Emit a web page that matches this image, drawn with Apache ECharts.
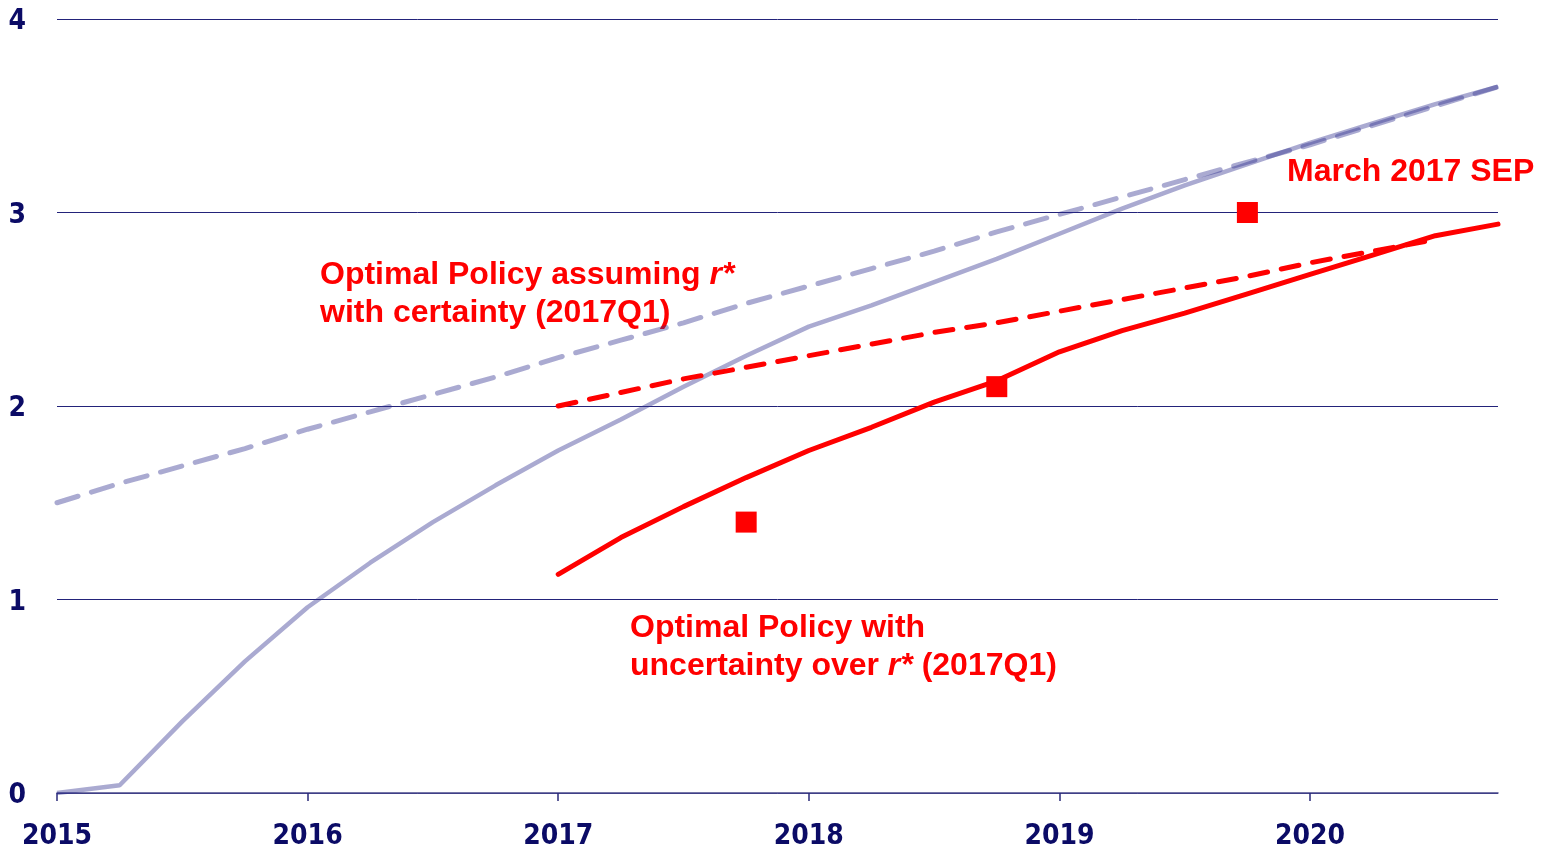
<!DOCTYPE html>
<html>
<head>
<meta charset="utf-8">
<script src="https://cdn.jsdelivr.net/npm/echarts@6/dist/echarts.min.js"></script>
<style>html,body{margin:0;padding:0;background:#fff}#c{width:1541px;height:849px}</style>
</head>
<body>
<div id="c"></div>
<script>
// Quarterly dates (2015Q1 .. 2020Q4)
const quarters = [2015,2015.25,2015.5,2015.75,2016,2016.25,2016.5,2016.75,2017,2017.25,2017.5,2017.75,2018,2018.25,2018.5,2018.75,2019,2019.25,2019.5,2019.75,2020,2020.25,2020.5,2020.75];
// Gray solid path
const graySolid = [0,0.04,0.37,0.68,0.96,1.19,1.40,1.59,1.77,1.93,2.10,2.26,2.41,2.52,2.64,2.76,2.89,3.02,3.14,3.25,3.36,3.46,3.56,3.65];
// Gray dashed path
const grayDashed = [1.50,1.60,1.69,1.78,1.88,1.97,2.06,2.15,2.25,2.34,2.43,2.53,2.62,2.71,2.80,2.90,2.99,3.08,3.17,3.26,3.35,3.45,3.55,3.65];
// Red dashed: optimal policy assuming r* with certainty (2017Q1 ..)
const redDashedQ = [2017,2017.25,2017.5,2017.75,2018,2018.25,2018.5,2018.75,2019,2019.25,2019.5,2019.75,2020,2020.25,2020.5];
const redDashed = [2.00,2.07,2.14,2.20,2.26,2.32,2.38,2.43,2.49,2.55,2.61,2.67,2.74,2.80,2.86];
// Red solid: optimal policy with uncertainty over r*
const redSolidQ = [2017,2017.25,2017.5,2017.75,2018,2018.25,2018.5,2018.75,2019,2019.25,2019.5,2019.75,2020,2020.25,2020.5,2020.75];
const redSolid = [1.13,1.32,1.48,1.63,1.77,1.89,2.02,2.13,2.28,2.39,2.48,2.58,2.68,2.78,2.88,2.94];
// March 2017 SEP medians
const sepQ = [2017.75,2018.75,2019.75];
const sep = [1.40,2.10,3.00];
const yTicks = [0,1,2,3,4];

const zip = (a,b)=>a.map((v,i)=>[v,b[i]]);
const navy = '#0b0b66';
const labelFont = '"Liberation Sans Narrow","DejaVu Sans Condensed",sans-serif';
const annFont = '"Liberation Sans",Arial,sans-serif';
const fs = 32;
const rich = {a:{fontFamily:annFont,fontWeight:'bold',fontSize:fs,fill:'#ff0000',lineHeight:38},
              i:{fontFamily:annFont,fontWeight:'bold',fontStyle:'italic',fontSize:fs,fill:'#ff0000',lineHeight:38}};

const chart = echarts.init(document.getElementById('c'));
chart.setOption({
  animation:false,
  grid:{left:57,right:43,top:19,bottom:56,containLabel:false,outerBoundsMode:'none'},
  xAxis:{type:'value',min:2015,max:2020.75,interval:1,
    axisLine:{show:true,lineStyle:{color:'#4a4a8c',width:1.5}},
    axisTick:{show:true,length:8,lineStyle:{color:'#2a2a7a',width:1.5}},
    splitLine:{show:false},
    axisLabel:{showMaxLabel:false,margin:30,color:navy,fontFamily:labelFont,fontWeight:'bold',fontSize:28,
      formatter:v=>String(Math.round(v))}},
  yAxis:{type:'value',min:yTicks[0],max:yTicks[yTicks.length-1],interval:1,
    axisLine:{show:false},axisTick:{show:false},
    splitLine:{show:true,lineStyle:{color:'#23237a',width:1}},
    axisLabel:{margin:31,align:'right',
      formatter:v=>'{v|'+v+'}',
      rich:{v:{color:navy,fontFamily:labelFont,fontWeight:'bold',fontSize:28,padding:[6,0,0,0]}}}},
  series:[
    {type:'line',data:zip(quarters,grayDashed),symbol:'none',z:2,
      lineStyle:{color:'rgb(43,43,140)',opacity:0.4,width:5,type:[22,14],cap:'round'}},
    {type:'line',data:zip(quarters,graySolid),symbol:'none',z:2,
      lineStyle:{color:'rgb(43,43,140)',opacity:0.4,width:4.5}},
    {type:'line',data:zip(redDashedQ,redDashed),symbol:'none',z:3,
      lineStyle:{color:'#ff0000',width:5,type:[18,14],cap:'round'}},
    {type:'line',data:zip(redSolidQ,redSolid),symbol:'none',z:3,
      lineStyle:{color:'#ff0000',width:5,cap:'round'}},
    {type:'scatter',data:zip(sepQ,sep),symbol:'rect',symbolSize:21,z:4,
      itemStyle:{color:'#ff0000',opacity:1}}
  ],
  graphic:[
    {type:'text',left:320,top:259,style:{
      text:'{a|Optimal Policy assuming }{i|r*}\n{a|with certainty (2017Q1)}',rich:rich}},
    {type:'text',left:630,top:612,style:{
      text:'{a|Optimal Policy with}\n{a|uncertainty over }{i|r*}{a| (2017Q1)}',rich:rich}},
    {type:'text',left:1287,top:156,style:{
      text:'{a|March 2017 SEP}',rich:rich}}
  ]
});
</script>
</body>
</html>
